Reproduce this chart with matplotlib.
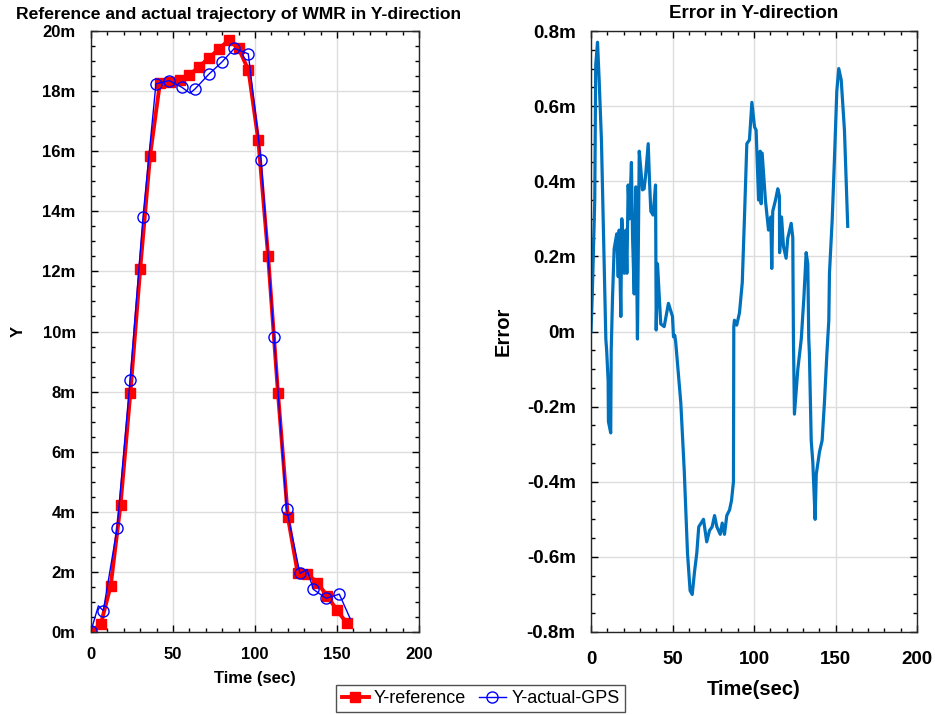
import numpy as np
import matplotlib
matplotlib.use("Agg")
import matplotlib.pyplot as plt
from matplotlib.ticker import MultipleLocator, FuncFormatter

plt.rcParams['font.family'] = ['Liberation Sans', 'DejaVu Sans']

# Y-reference (square markers, every ~6 s)
ref_t = [0, 6, 12, 18, 24, 30, 36, 42, 48, 54, 60, 66, 72, 78, 84, 90,
         96, 102, 108, 114, 120, 126, 132, 138, 144, 150, 156]
ref_y = [0.0, 0.27, 1.54, 4.23, 7.96, 12.08, 15.84, 18.26, 18.31, 18.37, 18.54,
         18.81, 19.11, 19.4, 19.7, 19.42, 18.7, 16.37, 12.51, 7.96, 3.84, 1.97,
         1.93, 1.64, 1.2, 0.73, 0.29]

# Y-actual-GPS (circle markers at gps_marks)
gps_t = [0, 4.5, 7.5, 15.9, 23.8, 31.7, 39.6, 47.7, 55.3, 60.4, 63.4, 72.0,
         79.7, 87.4, 95.9, 103.7, 111.6, 119.3, 127.4, 131.7, 135.6, 143.3, 151.4, 158]
gps_y = [0.04, 0.87, 0.71, 3.45, 8.37, 13.8, 18.24, 18.35, 18.13, 17.93, 18.07, 18.57,
         18.96, 19.42, 19.24, 15.7, 9.82, 4.08, 1.95, 2.08, 1.42, 1.12, 1.26, 0.45]
gps_marks = [0, 2, 3, 4, 5, 6, 7, 8, 10, 11, 12, 13, 14, 15, 16, 17, 18, 20, 21, 22]

# error in Y-direction
err_t = [0, 0.8, 2.3, 2.9, 4.0, 5.0, 6.4, 9.1, 9.6, 10.5, 10.7, 12.1, 12.4, 13.2,
         14.2, 15.8, 16.7, 17.3, 18.3, 18.9, 20.4, 21.4, 22.0, 22.8, 23.6, 24.8,
         25.5, 26.5, 27.5, 28.5, 29.6, 30.6, 31.6, 32.6, 33.6, 35.1, 35.9, 36.7,
         38.1, 39.6, 40.0, 40.8, 42.8, 44.9, 47.5, 50.0, 50.6, 51.4, 52.0, 55.1,
         57.2, 59.2, 60.8, 62.1, 63.5, 64.9, 66.1, 69.0, 71.0, 72.7, 74.3, 75.8,
         77.2, 79.3, 80.5, 81.9, 83.3, 85.0, 86.2, 87.4, 87.6, 88.0, 89.4, 91.1,
         92.8, 94.2, 95.6, 97.2, 98.7, 100.3, 101.3, 102.8, 103.8, 104.4, 105.0,
         107.0, 108.9, 110.3, 110.9, 111.5, 113.2, 114.6, 115.6, 115.7, 116.9,
         118.1, 119.7, 120.7, 122.8, 123.8, 123.9, 124.2, 124.8, 126.9, 129.0,
         130.6, 132.0, 133.0, 133.6, 134.0, 135.1, 136.1, 137.5, 138.2, 140.2,
         141.8, 143.2, 144.7, 145.9, 146.3, 148.0, 149.4, 150.8, 152.0, 153.5,
         155.5, 157.5]
err_y = [0.0, 0.10, 0.35, 0.71, 0.77, 0.67, 0.51, -0.02, -0.05, -0.13, -0.24, -0.27,
         -0.05, 0.09, 0.22, 0.26, 0.146, 0.27, 0.04, 0.30, 0.155, 0.27, 0.155, 0.39,
         0.3, 0.45, 0.25, 0.10, 0.385, -0.02, 0.48, 0.43, 0.377, 0.38, 0.42, 0.50,
         0.40, 0.32, 0.31, 0.39, 0.004, 0.18, 0.02, 0.013, 0.075, 0.04, -0.014,
         -0.01, -0.03, -0.19, -0.37, -0.59, -0.69, -0.70, -0.64, -0.59, -0.52,
         -0.50, -0.56, -0.53, -0.52, -0.49, -0.52, -0.54, -0.51, -0.54, -0.49,
         -0.475, -0.45, -0.40, 0.013, 0.03, 0.017, 0.05, 0.13, 0.31, 0.50, 0.51,
         0.61, 0.545, 0.536, 0.35, 0.48, 0.34, 0.475, 0.35, 0.27, 0.305, 0.168,
         0.32, 0.35, 0.38, 0.36, 0.21, 0.305, 0.226, 0.195, 0.248, 0.288, 0.25,
         0.17, -0.02, -0.22, -0.10, -0.02, 0.09, 0.21, 0.18, -0.02, -0.06, -0.29,
         -0.35, -0.50, -0.38, -0.32, -0.29, -0.19, -0.06, 0.03, 0.155, 0.30, 0.465,
         0.64, 0.70, 0.67, 0.535, 0.28]

fig = plt.figure(figsize=(9.35, 7.15), dpi=100)
ax1 = fig.add_axes([91/935, 1-632/715, 328/935, 601/715])
ax2 = fig.add_axes([591/935, 1-632/715, 326/935, 601/715])


def style(ax, fs, xpad, ypad):
    ax.grid(True, which='major', color='#dddddd', lw=1)
    ax.set_axisbelow(True)
    ax.tick_params(which='both', direction='in', top=True, right=True,
                   labelsize=fs, width=1)
    ax.tick_params(axis='x', pad=xpad)
    ax.tick_params(axis='y', pad=ypad)
    ax.tick_params(which='major', length=5)
    ax.tick_params(which='minor', length=3)
    for lab in ax.get_xticklabels() + ax.get_yticklabels():
        lab.set_fontweight('bold')
    for s in ax.spines.values():
        s.set_color('#262626')
        s.set_linewidth(1)


ax1.plot(ref_t, ref_y, color='red', lw=2.8, marker='s', ms=7.5,
         label='Y-reference')
ax1.plot(gps_t, gps_y, color='blue', lw=1, marker='o', ms=8, mfc='none',
         mew=1, markevery=gps_marks, label='Y-actual-GPS')
ax1.set_xlim(0, 200)
ax1.set_ylim(0, 20)
ax1.xaxis.set_major_locator(MultipleLocator(50))
ax1.xaxis.set_minor_locator(MultipleLocator(10))
ax1.yaxis.set_major_locator(MultipleLocator(2))
ax1.yaxis.set_minor_locator(MultipleLocator(0.5))
ax1.yaxis.set_major_formatter(FuncFormatter(lambda v, p: '%gm' % round(v, 6)))
style(ax1, 12, 11, 11)
ax1.set_xlabel('Time (sec)', fontsize=12, fontweight='bold', labelpad=6)
ax1.set_ylabel('Y', fontsize=12, fontweight='bold', labelpad=12)
ax1.set_title('Reference and actual trajectory of WMR in Y-direction',
              fontsize=12.6, fontweight='bold', x=0.45, pad=9)

ax2.plot(err_t, err_y, color='#0072BD', lw=2.3)
ax2.set_xlim(0, 200)
ax2.set_ylim(-0.8, 0.8)
ax2.xaxis.set_major_locator(MultipleLocator(50))
ax2.xaxis.set_minor_locator(MultipleLocator(10))
ax2.yaxis.set_major_locator(MultipleLocator(0.2))
ax2.yaxis.set_minor_locator(MultipleLocator(0.05))
ax2.yaxis.set_major_formatter(FuncFormatter(lambda v, p: '%gm' % round(v, 6)))
style(ax2, 13.5, 14, 11)
ax2.set_xlabel('Time(sec)', fontsize=14.5, fontweight='bold', labelpad=8)
ax2.set_ylabel('Error', fontsize=14.5, fontweight='bold', labelpad=10)
ax2.set_title('Error in Y-direction', fontsize=13.5, fontweight='bold', pad=9)

leg = fig.legend(loc='lower center', bbox_to_anchor=(0.514, -0.004), ncol=2,
                 fontsize=13, frameon=True, fancybox=False, handlelength=1.5,
                 handletextpad=0.3, columnspacing=0.7, borderpad=0.3,
                 borderaxespad=0.3)
leg.get_frame().set_edgecolor('#262626')
leg.get_frame().set_linewidth(1)

fig.savefig('out.png', dpi=100)
